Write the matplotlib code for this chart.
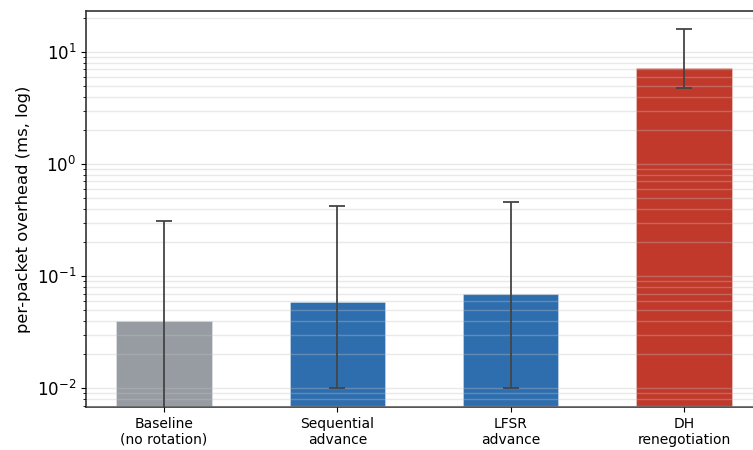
import matplotlib
matplotlib.use("Agg")
import matplotlib.pyplot as plt
import numpy as np

# Per-packet overhead for each key rotation scheme (ms)
categories = ["Baseline\n(no rotation)", "Sequential\nadvance", "LFSR\nadvance", "DH\nrenegotiation"]
mean_ms = [0.040, 0.059, 0.069, 7.2]
err_low = [0.040, 0.049, 0.059, 2.43]
err_high = [0.27, 0.36, 0.39, 8.8]
colors = ["#979ca2", "#2e6eae", "#2e6eae", "#c0392b"]

fig = plt.figure(figsize=(7.53, 4.5), dpi=100)
ax = fig.add_axes([86 / 753, 43 / 450, 676 / 753, 396 / 450])

x = np.arange(len(categories))
ax.bar(x, mean_ms, width=0.55, color=colors, edgecolor=(1, 1, 1, 0.5), linewidth=0.4, zorder=1)
ax.errorbar(x, mean_ms, yerr=[err_low, err_high], fmt="none",
            ecolor="#444444", elinewidth=1.3, capsize=6, capthick=1.3, zorder=3)

ax.set_yscale("log")
ax.set_ylim(0.0068, 23.2)
ax.set_xlim(-0.45, 3.45)

ax.grid(True, which="both", axis="y", color="#c2c2c2", alpha=0.35, linewidth=1.0, zorder=2)
ax.set_axisbelow(False)

ax.set_xticks(x)
ax.set_xticklabels(categories, fontsize=10)
ax.tick_params(axis="y", labelsize=12)
ax.set_ylabel("per-packet overhead (ms, log)", fontsize=11.8)

for side in ["top", "left", "bottom", "right"]:
    ax.spines[side].set_color("#333333")
    ax.spines[side].set_linewidth(1.2)

fig.savefig("out.png", dpi=100)
